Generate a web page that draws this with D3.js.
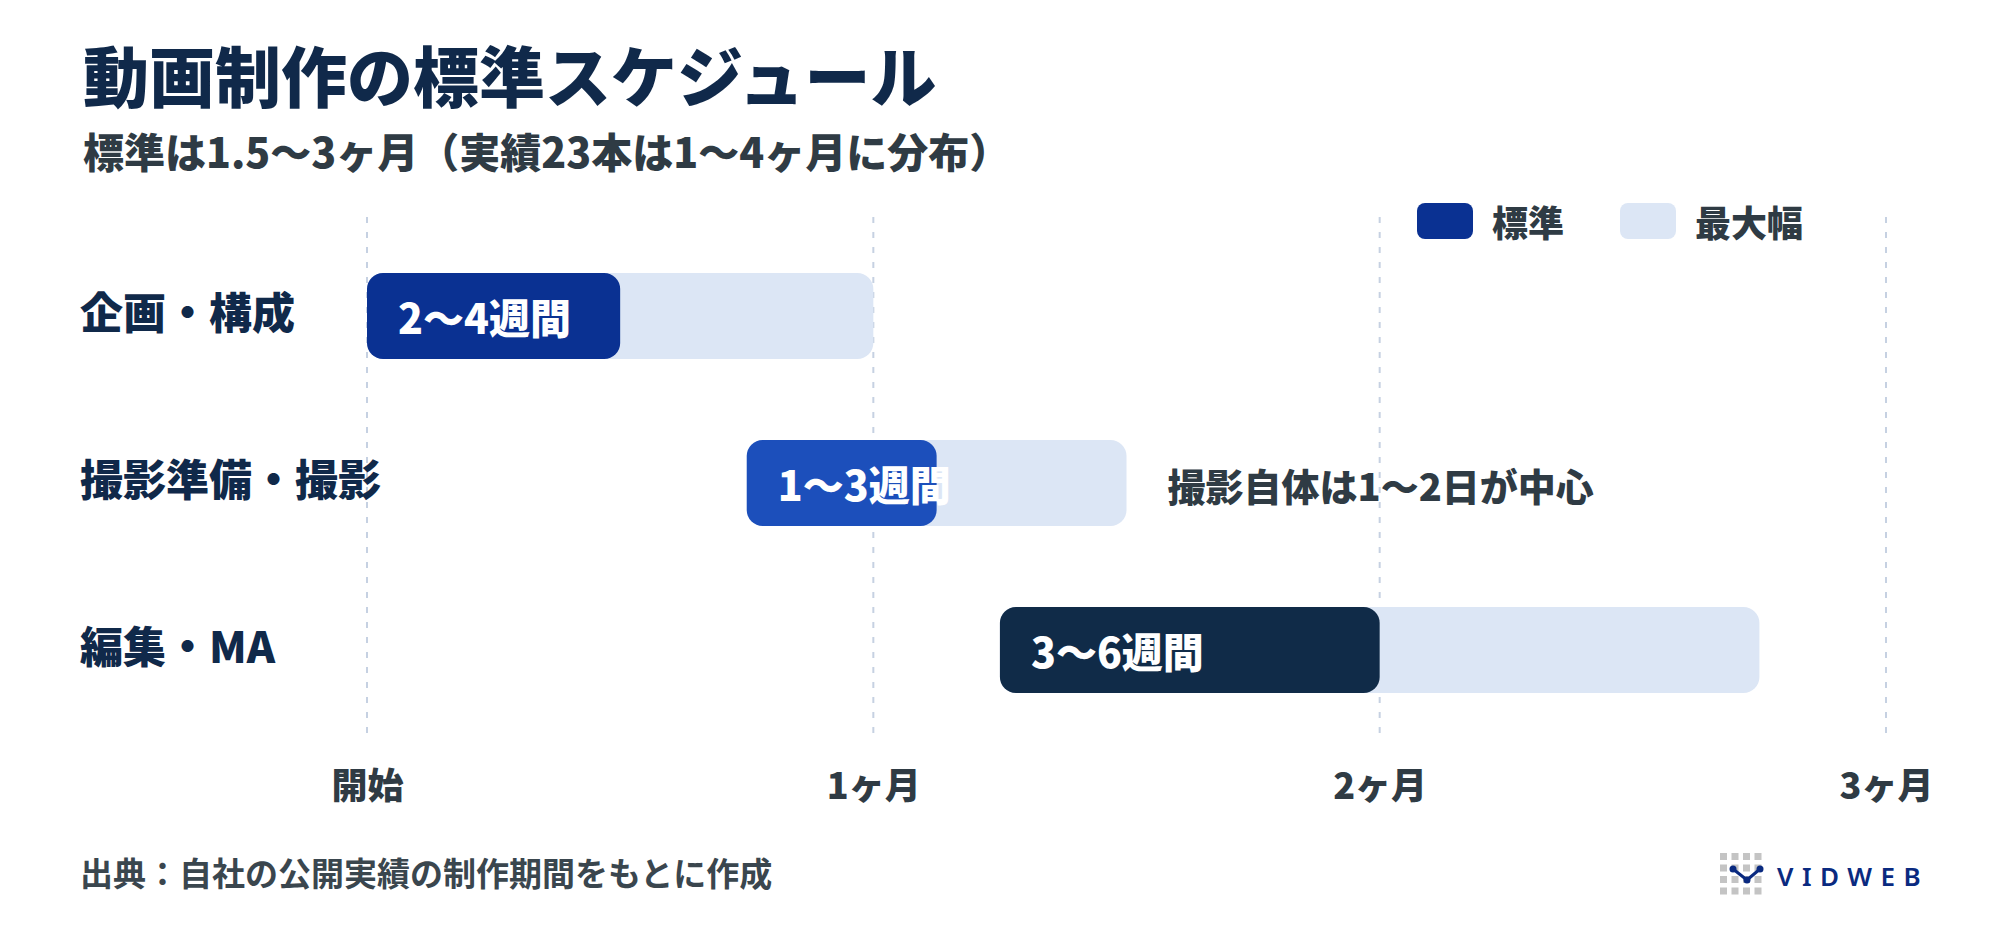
<!DOCTYPE html>
<html>
<head>
<meta charset="utf-8">
<style>
  body { margin: 0; background: #fff; }
  svg { display: block; font-family: "Noto Sans CJK JP", "Noto Sans", sans-serif; }
</style>
</head>
<body>
<svg width="2000" height="933"></svg>

<script src="https://d3js.org/d3.v7.min.js"></script>
<script>
// chart values (weeks, 1 month = 4 weeks)
const phases = ["企画・構成", "撮影準備・撮影", "編集・MA"];
const stdStart = [0, 3, 5];
const stdEnd = [2, 4.5, 8];
const maxEnd = [4, 6, 11];
const stdLabels = ["2〜4週間", "1〜3週間", "3〜6週間"];
const tickWeeks = [0, 4, 8, 12];
const tickLabels = ["開始", "1ヶ月", "2ヶ月", "3ヶ月"];
const notes = [null, "撮影自体は1〜2日が中心", null];

const legendItems = ["標準", "最大幅"];

const width = 2000, height = 933;
const navy = "#10294a";
const ink = "#2f3b44";
const light = "#dce6f5";

const svg = d3.select("svg");

const x = d3.scaleLinear()
  .domain([0, 12])
  .range([367, 1886]);

const y = d3.scalePoint()
  .domain(phases)
  .range([316, 650]);

const barH = 86;

const stdColor = d3.scaleOrdinal()
  .domain(phases)
  .range(["#0a3192", "#1c4fbb", "#102b48"]);

// title
svg.append("text")
  .attr("x", 83).attr("y", 73)
  .attr("dominant-baseline", "central")
  .style("font-size", "66px").style("font-weight", 900)
  .style("fill", navy)
  .text("動画制作の標準スケジュール");

svg.append("text")
  .attr("x", 83).attr("y", 150)
  .attr("dominant-baseline", "central")
  .style("font-size", "41px").style("font-weight", 800)
  .style("fill", ink)
  .text("標準は1.5〜3ヶ月（実績23本は1〜4ヶ月に分布）");

// dashed grid
svg.append("g")
  .selectAll("line")
  .data(tickWeeks)
  .join("line")
  .attr("x1", d => x(d)).attr("x2", d => x(d))
  .attr("y1", 217).attr("y2", 735)
  .style("stroke", "#c6d1e2")
  .style("stroke-width", 2)
  .style("stroke-dasharray", "6,9");

// x axis labels
let axis = svg.append("g")
  .attr("transform", "translate(0,783)")
  .call(d3.axisBottom(x)
    .tickValues(tickWeeks)
    .tickSize(0)
    .tickFormat((d, i) => tickLabels[i]));

axis.select(".domain").remove();
axis.selectAll("text")
  .attr("y", 0).attr("dy", null)
  .attr("dominant-baseline", "central")
  .style("font-family", "'Noto Sans CJK JP', sans-serif")
  .style("font-size", "36px").style("font-weight", 800)
  .style("fill", ink);

// row labels
svg.append("g")
  .selectAll("text")
  .data(phases)
  .join("text")
  .attr("x", 80)
  .attr("y", d => y(d) - 6)
  .attr("dominant-baseline", "central")
  .style("font-size", "43px").style("font-weight", 900)
  .style("fill", navy)
  .text(d => d);

// max range bars
svg.append("g")
  .selectAll("rect")
  .data(phases)
  .join("rect")
  .attr("x", (d, i) => x(stdStart[i]))
  .attr("y", d => y(d) - barH / 2)
  .attr("width", (d, i) => x(maxEnd[i]) - x(stdStart[i]))
  .attr("height", barH)
  .attr("rx", 16)
  .style("fill", light);

// standard bars
svg.append("g")
  .selectAll("rect")
  .data(phases)
  .join("rect")
  .attr("x", (d, i) => x(stdStart[i]))
  .attr("y", d => y(d) - barH / 2)
  .attr("width", (d, i) => x(stdEnd[i]) - x(stdStart[i]))
  .attr("height", barH)
  .attr("rx", 16)
  .style("fill", d => stdColor(d));

// labels inside bars
svg.append("g")
  .selectAll("text")
  .data(phases)
  .join("text")
  .attr("x", (d, i) => x(stdStart[i]) + 31)
  .attr("y", d => y(d))
  .attr("dominant-baseline", "central")
  .style("font-size", "41px").style("font-weight", 900)
  .style("fill", "#fff")
  .text((d, i) => stdLabels[i]);

// side notes
svg.append("g")
  .selectAll("text")
  .data(phases.filter((d, i) => notes[i]))
  .join("text")
  .attr("x", d => x(maxEnd[phases.indexOf(d)]) + 41)
  .attr("y", d => y(d) + 1)
  .attr("dominant-baseline", "central")
  .style("font-size", "38px").style("font-weight", 800)
  .style("fill", ink)
  .text(d => notes[phases.indexOf(d)]);

// legend
let legend = svg.append("g")
  .selectAll("g")
  .data(legendItems)
  .join("g")
  .attr("transform", (d, i) => "translate(" + (1417 + i * 203) + ",203)");

legend.append("rect")
  .attr("width", 56).attr("height", 36).attr("rx", 8)
  .style("fill", (d, i) => i === 0 ? "#0a3192" : light);

legend.append("text")
  .attr("x", 75).attr("y", 18)
  .attr("dominant-baseline", "central")
  .style("font-size", "36px").style("font-weight", 800)
  .style("fill", ink)
  .text(d => d);

// source
svg.append("text")
  .attr("x", 80).attr("y", 872)
  .attr("dominant-baseline", "central")
  .style("font-size", "33px").style("font-weight", 700)
  .style("fill", "#3a464e")
  .text("出典：自社の公開実績の制作期間をもとに作成");

// logo
let logo = svg.append("g").attr("transform", "translate(1720,853)");
let cells = d3.range(16);
logo.selectAll("rect")
  .data(cells)
  .join("rect")
  .attr("x", d => (d % 4) * 11.5)
  .attr("y", d => Math.floor(d / 4) * 11.5)
  .attr("width", 7).attr("height", 7)
  .style("fill", "#c4c4c4");

logo.append("path")
  .attr("d", "M13,16 L27,27 L40,16")
  .style("fill", "none")
  .style("stroke", "#0a2a80")
  .style("stroke-width", 3);

logo.selectAll("circle")
  .data([[13, 16], [27, 27], [40, 16]])
  .join("circle")
  .attr("cx", d => d[0]).attr("cy", d => d[1]).attr("r", 3.5)
  .style("fill", "#0a2a80");

logo.append("text")
  .attr("x", 57).attr("y", 23)
  .attr("dominant-baseline", "central")
  .style("font-family", "'Noto Sans', sans-serif")
  .style("font-size", "26px").style("font-weight", 600)
  .style("letter-spacing", "8.5px")
  .style("fill", "#0a2a80")
  .text("VIDWEB");
</script>
</body>
</html>
